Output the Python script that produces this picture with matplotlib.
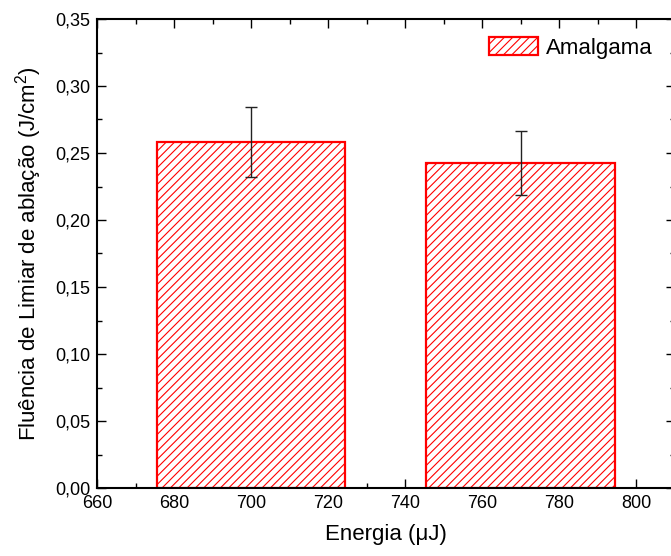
import matplotlib
matplotlib.use('Agg')
import matplotlib.pyplot as plt
from matplotlib.ticker import MultipleLocator

# data
energia = [700, 770]
limiar = [0.258, 0.2425]
erro = [0.026, 0.024]
largura = 49

xticks = [660, 680, 700, 720, 740, 760, 780, 800]
yticks = [0.00, 0.05, 0.10, 0.15, 0.20, 0.25, 0.30, 0.35]
ytick_labels = ['0,00', '0,05', '0,10', '0,15', '0,20', '0,25', '0,30', '0,35']

plt.rcParams['font.family'] = ['Liberation Sans', 'DejaVu Sans']
plt.rcParams['hatch.linewidth'] = 0.8

fig = plt.figure(figsize=(6.71, 5.56), dpi=100)
ax = fig.add_axes([97/671, 1 - 488/556, 577.5/671, 469/556])

ax.bar(energia, limiar, width=largura, facecolor='white', edgecolor='red',
       linewidth=1.6, hatch='////', label='Amalgama', zorder=2)
ax.errorbar(energia, limiar, yerr=erro, fmt='none', ecolor='#222222',
            elinewidth=1.0, capsize=4.5, capthick=1.0, zorder=3)

ax.set_xlim(660, 810)
ax.set_ylim(0, 0.35)
ax.set_xticks(xticks)
ax.set_yticks(yticks)
ax.set_yticklabels(ytick_labels)
ax.xaxis.set_minor_locator(MultipleLocator(10))
ax.yaxis.set_minor_locator(MultipleLocator(0.025))

ax.tick_params(which='both', direction='in', top=True, right=True,
               labelsize=13, width=1.0)
ax.tick_params(which='major', length=6.5, pad=5)
ax.tick_params(which='minor', length=3.4)
for s in ax.spines.values():
    s.set_linewidth(1.5)

ax.set_xlabel('Energia (\u03bcJ)', fontsize=16, labelpad=9)
ax.set_ylabel('Fluência de Limiar de ablação (J/cm$^{\\mathregular{2}}$)',
              fontsize=16, labelpad=8)

ax.legend(loc='upper left', bbox_to_anchor=(489/671, 1 - 37/556),
          bbox_transform=fig.transFigure, frameon=False, fontsize=16,
          handlelength=2.2, handleheight=0.9, handletextpad=0.35,
          borderpad=0, borderaxespad=0)

fig.savefig('out.png', dpi=100)
